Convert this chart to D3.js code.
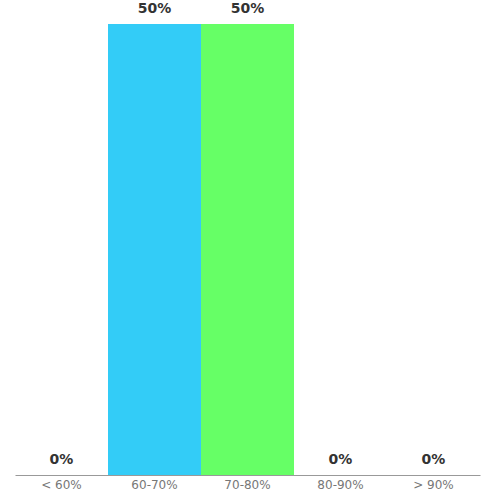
<!DOCTYPE html>
<html>
<head>
<meta charset="utf-8">
<script src="https://cdn.jsdelivr.net/npm/d3@7"></script>
<style>
  body { margin: 0; background: #fff; }
  text { font-family: "DejaVu Sans", sans-serif; }
</style>
</head>
<body>
<div id="chart"></div>
<script>
// データ
const categories = ['< 60%', '60-70%', '70-80%', '80-90%', '> 90%'];
const values = [0, 50, 50, 0, 0];
const barColors = ['#33ccf7', '#33ccf7', '#66ff66', '#ff9933', '#cc66ff'];

// svg領域設定
const svgWidth = 500;
const svgHeight = 500;
const svg = d3.select('#chart')
  .append('svg')
  .attr('width', svgWidth)
  .attr('height', svgHeight);

const margin = { top: 24, right: 20, bottom: 25, left: 15 };
const width = svgWidth - margin.left - margin.right;
const height = svgHeight - margin.top - margin.bottom;
const graph = svg.append('g')
  .attr('transform', `translate(${margin.left},${margin.top})`);

// scale設定
const xScale = d3.scaleBand().domain(categories).range([0, width]).padding(0);
const yScale = d3.scaleLinear().domain([0, d3.max(values)]).range([height, 0]);

const data = categories.map((c, i) => ({ cat: c, val: values[i], color: barColors[i] }));

// 棒
graph.selectAll('rect')
  .data(data)
  .enter()
  .append('rect')
  .attr('x', d => xScale(d.cat))
  .attr('y', d => yScale(d.val))
  .attr('width', xScale.bandwidth())
  .attr('height', d => height - yScale(d.val))
  .attr('fill', d => d.color);

// 値ラベル
graph.selectAll('.val')
  .data(data)
  .enter()
  .append('text')
  .attr('class', 'val')
  .attr('x', d => xScale(d.cat) + xScale.bandwidth() / 2)
  .attr('y', d => yScale(d.val) - 11)
  .attr('text-anchor', 'middle')
  .attr('font-size', 14)
  .attr('font-weight', 'bold')
  .attr('fill', '#333')
  .text(d => d.val + '%');

// x軸
const xAxis = graph.append('g')
  .attr('transform', `translate(0,${height})`)
  .call(d3.axisBottom(xScale).tickSize(0).tickPadding(5));
xAxis.select('.domain').attr('stroke', '#999').attr('stroke-width', 1.2);
xAxis.selectAll('text')
  .attr('font-size', 12)
  .attr('fill', '#777')
  .style('font-family', '"DejaVu Sans", sans-serif');
</script>
</body>
</html>
